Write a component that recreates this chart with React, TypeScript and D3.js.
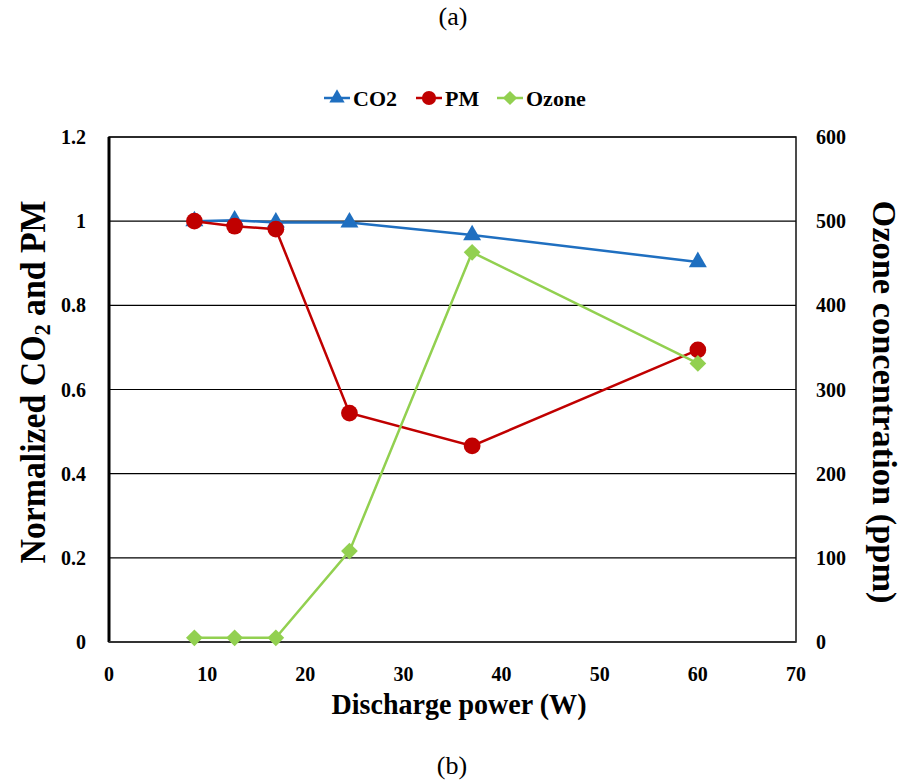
import * as d3 from "d3";
import React from "react";

const power = [8.7, 12.8, 17.0, 24.5, 37.0, 60.0];
const co2 = [1.0, 1.002, 0.997, 0.997, 0.967, 0.903];
const pm = [1.0, 0.988, 0.981, 0.544, 0.466, 0.694];
const ozone = [5, 5, 5, 108, 463, 331];

const xTicks = [0, 10, 20, 30, 40, 50, 60, 70];
const leftTicks = [0, 0.2, 0.4, 0.6, 0.8, 1, 1.2];
const rightTicks = [0, 100, 200, 300, 400, 500, 600];

const BLUE = "#1f6fc0";
const RED = "#c00000";
const GREEN = "#92d050";
const FONT = "'Liberation Serif', 'Times New Roman', serif";

const App: React.FC = () => {
  const width = 902;
  const height = 782;
  const margin = { top: 137, right: 106, bottom: 140, left: 109 };
  const plotW = width - margin.left - margin.right;
  const plotH = height - margin.top - margin.bottom;

  const x = d3.scaleLinear().domain([0, 70]).range([0, plotW]);
  const yL = d3.scaleLinear().domain([0, 1.2]).range([plotH, 0]);
  const yR = d3.scaleLinear().domain([0, 600]).range([plotH, 0]);

  const lineL = d3
    .line<number>()
    .x((_, i) => x(power[i]))
    .y((d) => yL(d));
  const lineR = d3
    .line<number>()
    .x((_, i) => x(power[i]))
    .y((d) => yR(d));

  const tri = d3.symbol(d3.symbolTriangle, 140)()!;
  const circ = d3.symbol(d3.symbolCircle, 220)()!;
  const diam = d3.symbol(d3.symbolSquare, 140)()!;

  // diamond = square turned 45deg
  const marker = (path: string, isDiamond: boolean, tx: number, ty: number) =>
    `translate(${tx}, ${ty})${isDiamond ? " rotate(45)" : ""}`;

  const legend = [
    { label: "CO2", color: BLUE, path: tri, dia: false, x: 337 },
    { label: "PM", color: RED, path: circ, dia: false, x: 429 },
    { label: "Ozone", color: GREEN, path: diam, dia: true, x: 510 },
  ];

  return (
    <svg
      width={width}
      height={height}
      style={{ position: "absolute", left: 0, top: 0, background: "#fff", fontFamily: FONT }}
    >
      <text x={453} y={25} textAnchor="middle" fontSize={26}>(a)</text>
      <text x={452} y={774} textAnchor="middle" fontSize={26}>(b)</text>

      {/* legend */}
      {legend.map((l) => (
        <g key={l.label} transform={`translate(${l.x}, 98)`}>
          <line x1={-13} x2={13} stroke={l.color} strokeWidth={2.5} />
          <path d={l.path} transform={`scale(0.85)${l.dia ? " rotate(45)" : ""}`} fill={l.color} />
          <text x={16} y={7.5} fontSize={22} fontWeight="bold">{l.label}</text>
        </g>
      ))}

      <g transform={`translate(${margin.left}, ${margin.top})`}>
        {/* gridlines */}
        {leftTicks.slice(1).map((t) => (
          <line key={t} x1={0} x2={plotW} y1={yL(t)} y2={yL(t)} stroke="#000" strokeWidth={1.2} />
        ))}
        <rect x={0} y={0} width={plotW} height={plotH} fill="none" stroke="#111" strokeWidth={1.5} />
        <line x1={0} x2={0} y1={0} y2={plotH} stroke="#000" strokeWidth={3} />
        <line x1={0} x2={plotW} y1={plotH} y2={plotH} stroke="#333" strokeWidth={2.2} />

        {/* tick labels */}
        {leftTicks.map((t) => (
          <text key={t} x={-23} y={yL(t) + 7} textAnchor="end" fontSize={20} fontWeight="bold">{t}</text>
        ))}
        {rightTicks.map((t) => (
          <text key={t} x={plotW + 20} y={yR(t) + 7} textAnchor="start" fontSize={20} fontWeight="bold">{t}</text>
        ))}
        {xTicks.map((t) => (
          <text key={t} x={x(t)} y={plotH + 39} textAnchor="middle" fontSize={20} fontWeight="bold">{t}</text>
        ))}

        {/* series */}
        <path d={lineL(co2)!} fill="none" stroke={BLUE} strokeWidth={2.5} />
        {co2.map((v, i) => (
          <path key={i} d={tri} transform={marker(tri, false, x(power[i]), yL(v))} fill={BLUE} />
        ))}
        <path d={lineL(pm)!} fill="none" stroke={RED} strokeWidth={2.5} />
        {pm.map((v, i) => (
          <path key={i} d={circ} transform={marker(circ, false, x(power[i]), yL(v))} fill={RED} />
        ))}
        <path d={lineR(ozone)!} fill="none" stroke={GREEN} strokeWidth={2.5} />
        {ozone.map((v, i) => (
          <path key={i} d={diam} transform={marker(diam, true, x(power[i]), yR(v))} fill={GREEN} />
        ))}
      </g>

      {/* axis titles */}
      <text x={459} y={714} textAnchor="middle" fontSize={30} fontWeight="bold" textLength={255} lengthAdjust="spacingAndGlyphs">
        Discharge power (W)
      </text>
      <text
        transform="translate(45, 382) rotate(-90)"
        textAnchor="middle"
        fontSize={36}
        fontWeight="bold"
        textLength={363}
        lengthAdjust="spacingAndGlyphs"
      >
        Normalized CO<tspan fontSize={24} dy={5}>2</tspan><tspan dy={-5}> and PM</tspan>
      </text>
      <text
        transform="translate(873, 402) rotate(90)"
        textAnchor="middle"
        fontSize={34}
        fontWeight="bold"
        textLength={403}
        lengthAdjust="spacingAndGlyphs"
      >
        Ozone concentration (ppm)
      </text>
    </svg>
  );
};

export default App;
